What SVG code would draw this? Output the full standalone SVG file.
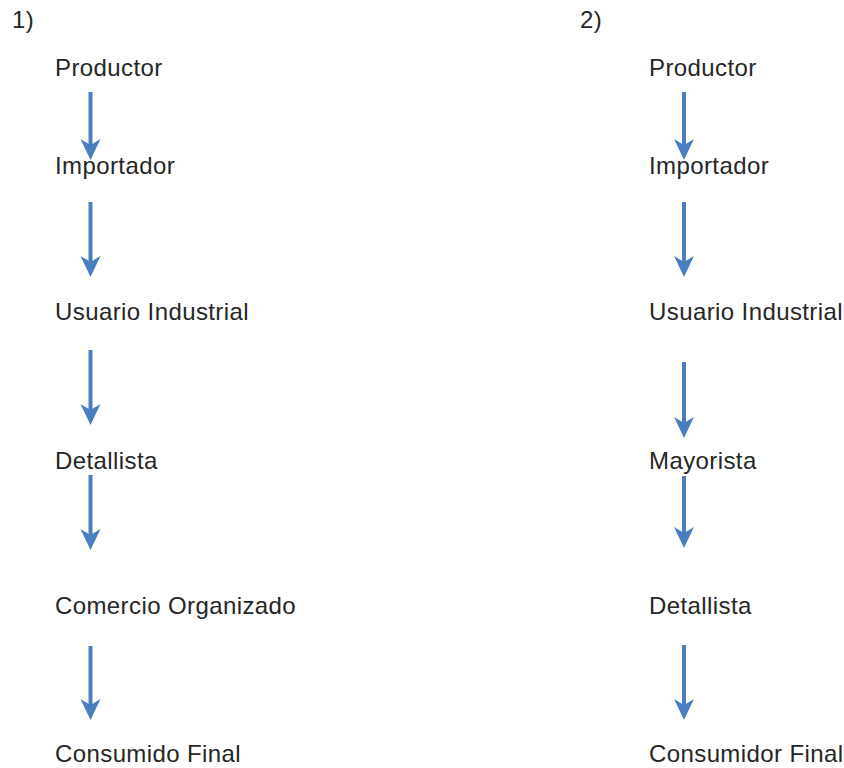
<svg xmlns="http://www.w3.org/2000/svg" width="844" height="768" viewBox="0 0 844 768">
<style>
  text { font-family: "Liberation Sans", Arial, sans-serif; font-size: 24px; fill: #262626; letter-spacing: 0.4px; }
  .shaft { stroke: #4a7ebf; stroke-width: 4; fill: none; }
  .head { fill: #4a7ebf; }
</style>
<defs>
  <g id="ah"><path class="head" d="M -10,-21 L 0,0 L 10,-21 L 0,-15 Z"/></g>
</defs>
<rect width="844" height="768" fill="#ffffff"/>
<g id="labels">
  <text x="12" y="28">1)</text>
  <text x="580" y="28">2)</text>
</g>
<g id="n1-productor"><text x="55" y="76">Productor</text></g>
<g id="n1-importador"><text x="55" y="174">Importador</text></g>
<g id="n1-usuario"><text x="55" y="320">Usuario Industrial</text></g>
<g id="n1-detallista"><text x="55" y="469">Detallista</text></g>
<g id="n1-comercio"><text x="55" y="614">Comercio Organizado</text></g>
<g id="n1-consumido"><text x="55" y="762">Consumido Final</text></g>
<g id="n2-productor"><text x="649" y="76">Productor</text></g>
<g id="n2-importador"><text x="649" y="174">Importador</text></g>
<g id="n2-usuario"><text x="649" y="320">Usuario Industrial</text></g>
<g id="n2-mayorista"><text x="649" y="469">Mayorista</text></g>
<g id="n2-detallista"><text x="649" y="614">Detallista</text></g>
<g id="n2-consumidor"><text x="649" y="762">Consumidor Final</text></g>
<g id="connectors">
  <line class="shaft" x1="90.5" y1="92" x2="90.5" y2="146"/><use href="#ah" x="90.5" y="160"/>
  <line class="shaft" x1="90.5" y1="202" x2="90.5" y2="263"/><use href="#ah" x="90.5" y="277"/>
  <line class="shaft" x1="90.5" y1="350" x2="90.5" y2="411"/><use href="#ah" x="90.5" y="425"/>
  <line class="shaft" x1="90.5" y1="475" x2="90.5" y2="536"/><use href="#ah" x="90.5" y="550"/>
  <line class="shaft" x1="90.5" y1="646" x2="90.5" y2="706"/><use href="#ah" x="90.5" y="720"/>
  <line class="shaft" x1="684" y1="92" x2="684" y2="146"/><use href="#ah" x="684" y="160"/>
  <line class="shaft" x1="684" y1="202" x2="684" y2="263"/><use href="#ah" x="684" y="277"/>
  <line class="shaft" x1="684" y1="362" x2="684" y2="424"/><use href="#ah" x="684" y="438"/>
  <line class="shaft" x1="684" y1="476" x2="684" y2="534"/><use href="#ah" x="684" y="548"/>
  <line class="shaft" x1="684" y1="645" x2="684" y2="706"/><use href="#ah" x="684" y="720"/>
</g>
</svg>
